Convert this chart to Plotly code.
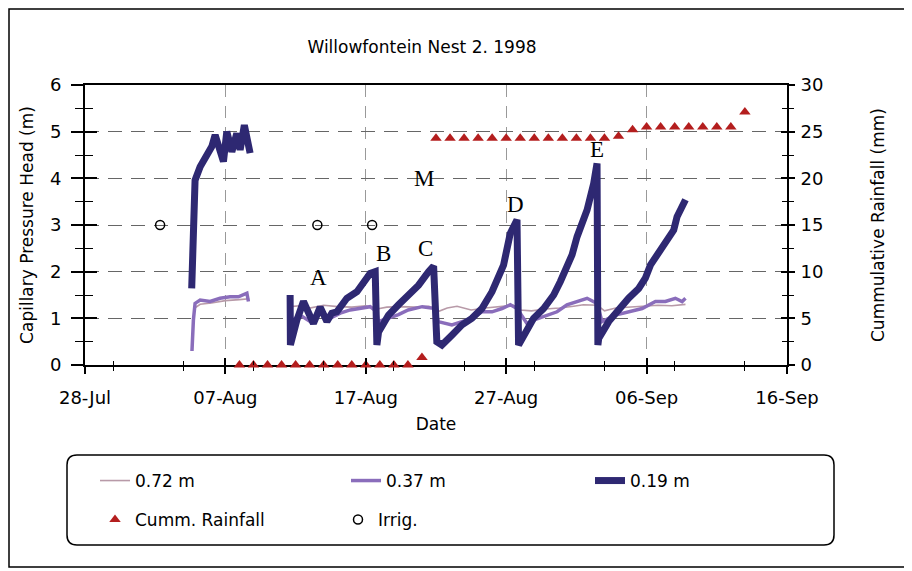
import pandas as pd
import plotly.graph_objects as go

START = pd.Timestamp("1998-07-28")

# time is in days after 28-Jul-1998
t19_a = [7.60, 7.66, 7.72, 7.84, 8.20, 8.67, 9.03, 9.27, 9.86, 10.10, 10.46, 10.81, 11.05, 11.35, 11.76]
h19_a = [1.64, 2.40, 2.96, 3.96, 4.25, 4.46, 4.68, 4.93, 4.36, 5.00, 4.57, 4.96, 4.61, 5.14, 4.54]
t19_b = [14.61, 14.63, 15.09, 15.56, 16.27, 16.75, 17.23, 17.58, 17.94, 18.65, 19.37, 19.84, 20.31,
         20.67, 20.79, 20.91, 21.62, 22.33, 23.04, 23.76, 24.47, 24.83, 25.06, 25.42, 26.13, 26.85,
         27.56, 28.27, 28.99, 29.46, 29.81, 30.29, 30.77, 30.88, 31.24, 31.95, 32.67, 33.38, 33.86,
         34.33, 34.69, 35.05, 35.76, 36.23, 36.47, 36.53, 36.59, 37.30, 38.01, 38.72, 39.44, 39.91,
         40.27, 40.75, 41.46, 41.93, 42.17, 42.77]
h19_b = [1.50, 0.43, 0.96, 1.36, 0.89, 1.24, 0.93, 1.11, 1.14, 1.43, 1.57, 1.79, 1.96,
         2.00, 0.43, 0.71, 1.07, 1.29, 1.50, 1.71, 2.00, 2.12, 0.50, 0.43, 0.64, 0.86,
         1.00, 1.21, 1.57, 1.93, 2.14, 2.82, 3.11, 0.43, 0.64, 1.00, 1.21, 1.50, 1.79,
         2.14, 2.36, 2.75, 3.32, 3.89, 4.32, 0.43, 0.57, 0.93, 1.21, 1.43, 1.64, 1.86,
         2.14, 2.36, 2.68, 2.89, 3.18, 3.54]

t37_a = [7.62, 7.72, 7.84, 8.20, 8.91, 9.62, 10.33, 10.93, 11.53, 11.64]
h37_a = [0.30, 0.96, 1.32, 1.39, 1.36, 1.43, 1.46, 1.46, 1.54, 1.36]
t37_b = [14.61, 15.32, 16.04, 16.75, 17.46, 18.18, 18.89, 19.60, 20.31, 20.79, 20.88, 22.33,
         23.02, 24.02, 24.95, 25.16, 26.13, 26.85, 27.56, 28.27, 28.99, 29.70, 30.29, 30.77,
         31.48, 31.95, 32.91, 33.62, 34.33, 35.05, 35.76, 36.47, 36.83, 37.78, 38.72, 39.68,
         40.63, 41.34, 42.05, 42.53, 42.77]
h37_b = [0.93, 1.07, 0.93, 1.14, 1.00, 1.11, 1.18, 1.21, 1.25, 1.14, 0.93, 1.08,
         1.18, 1.25, 1.21, 0.93, 0.86, 0.93, 1.00, 1.14, 1.14, 1.21, 1.29, 1.21,
         0.89, 0.96, 1.07, 1.14, 1.29, 1.36, 1.43, 1.32, 0.93, 1.07, 1.14, 1.21,
         1.36, 1.36, 1.43, 1.36, 1.43]

t72_a = [7.72, 8.20, 9.00, 10.00, 11.00, 11.70]
h72_a = [1.20, 1.30, 1.33, 1.38, 1.40, 1.42]
t72_b = [14.61, 15.30, 16.00, 17.00, 18.00, 19.00, 20.00, 20.80, 21.50, 22.50, 23.50, 24.50,
         25.20, 25.80, 26.50, 27.50, 28.50, 29.50, 30.50, 31.00, 31.80, 32.80, 33.80, 34.80,
         35.50, 36.50, 37.00, 37.80, 38.80, 39.80, 40.80, 41.80, 42.77]
h72_b = [1.25, 1.27, 1.22, 1.28, 1.25, 1.24, 1.27, 1.20, 1.24, 1.25, 1.24, 1.26,
         1.15, 1.22, 1.26, 1.18, 1.22, 1.25, 1.28, 1.18, 1.16, 1.20, 1.22, 1.26,
         1.29, 1.28, 1.16, 1.22, 1.24, 1.26, 1.28, 1.27, 1.30]

rain_days = list(range(11, 48))
rain_mm = [0, 0, 0, 0, 0, 0, 0, 0, 0, 0, 0, 0, 0, 0.8,
           24.3, 24.3, 24.3, 24.3, 24.3, 24.3, 24.3, 24.3, 24.3, 24.3, 24.3, 24.3, 24.3,
           24.5, 25.2, 25.5, 25.5, 25.5, 25.5, 25.5, 25.5, 25.5, 27.1]

irrig_days = [5.35, 16.55, 20.45]
irrig_head = [3, 3, 3]

# letter labels: (text, day, head)
labels = [("A", 16.6, 1.87), ("B", 21.26, 2.39), ("C", 24.23, 2.50),
          ("M", 24.11, 4.00), ("D", 30.65, 3.43), ("E", 36.47, 4.61)]

FONT = "DejaVu Sans"
OFF = 8  # the page body margin moves the figure 8px right and down
W, H = 912 - OFF, 571 - OFF
L, R, T, B = 85 - OFF, 125, 85 - OFF, 206
PW, PH = W - L - R, H - T - B


def dates(days):
    return [None if d is None else START + pd.Timedelta(days=d) for d in days]


# page pixel -> paper coordinates
def fx(px):
    return (px - OFF - L) / PW


def fy(py):
    return (H - B - (py - OFF)) / PH


def join(a, b):
    return a + [None] + b


fig = go.Figure()

series = [
    ("0.72 m", join(t72_a, t72_b), join(h72_a, h72_b), "#b89aa8", 1.6, "legend"),
    ("0.37 m", join(t37_a, t37_b), join(h37_a, h37_b), "#8a6dbb", 3.5, "legend2"),
    ("0.19 m", join(t19_a, t19_b), join(h19_a, h19_b), "#2e2872", 7, "legend3"),
]
for name, t, h, color, width, leg in series:
    fig.add_trace(go.Scatter(
        x=dates(t), y=h, mode="lines", name=name, legend=leg,
        line=dict(color=color, width=width), connectgaps=False,
    ))

fig.add_trace(go.Scatter(
    x=dates(rain_days), y=rain_mm, mode="markers", name="Cumm. Rainfall", yaxis="y2",
    legend="legend4", cliponaxis=False,
    marker=dict(symbol="triangle-up", size=10, color="#b41e1e"),
))
fig.add_trace(go.Scatter(
    x=dates(irrig_days), y=irrig_head, mode="markers", name="Irrig.", legend="legend5",
    marker=dict(symbol="circle-open", size=9, color="black", line=dict(width=1.5)),
))

# empty traces that carry the inner halves of the tick marks
fig.add_trace(go.Scatter(x=[None], y=[None], xaxis="x2", yaxis="y3", showlegend=False, hoverinfo="skip"))
fig.add_trace(go.Scatter(x=[None], y=[None], xaxis="x", yaxis="y4", showlegend=False, hoverinfo="skip"))

for text, d, h in labels:
    fig.add_annotation(x=START + pd.Timedelta(days=d), y=h, text=text, showarrow=False,
                       font=dict(family="Liberation Serif", size=23, color="black"))

xrange_ = ["1998-07-28", "1998-09-16"]
DAY = 86400000

legend_pos = {
    "legend": (95, 481), "legend2": (346, 481), "legend3": (590, 481),
    "legend4": (95, 520), "legend5": (338, 520),
}
legends = {}
for key, (px, py) in legend_pos.items():
    legends[key] = dict(x=fx(px), y=fy(py), xanchor="left", yanchor="middle",
                        bgcolor="rgba(0,0,0,0)", font=dict(family=FONT, size=17, color="black"))

# rounded legend frame and outer border
x0, x1, y0, y1, r = 67, 834, 455, 545, 10
frame = (f"M{fx(x0 + r)},{fy(y0)} L{fx(x1 - r)},{fy(y0)} Q{fx(x1)},{fy(y0)} {fx(x1)},{fy(y0 + r)} "
         f"L{fx(x1)},{fy(y1 - r)} Q{fx(x1)},{fy(y1)} {fx(x1 - r)},{fy(y1)} "
         f"L{fx(x0 + r)},{fy(y1)} Q{fx(x0)},{fy(y1)} {fx(x0)},{fy(y1 - r)} "
         f"L{fx(x0)},{fy(y0 + r)} Q{fx(x0)},{fy(y0)} {fx(x0 + r)},{fy(y0)} Z")

fig.update_layout(
    width=W, height=H, autosize=False,
    margin=dict(l=L, r=R, t=T, b=B),
    paper_bgcolor="white", plot_bgcolor="white",
    font=dict(family=FONT, size=17, color="black"),
    title=dict(text="Willowfontein Nest 2. 1998", x=(422 - OFF) / W, xref="container", xanchor="center",
               y=1 - (47 - OFF) / H, yref="container", yanchor="middle", font=dict(family=FONT, size=17)),
    xaxis=dict(
        type="date", range=xrange_, tick0="1998-07-28", dtick=10 * DAY, tickformat="%d-%b",
        ticks="outside", ticklen=7, tickwidth=1.5, tickcolor="black",
        minor=dict(dtick=5 * DAY, ticks="outside", ticklen=4, tickwidth=1.2, tickcolor="black", showgrid=False),
        showline=True, linewidth=2, linecolor="black", mirror=True,
        showgrid=True, gridcolor="#999999", griddash="12px,9px", gridwidth=1,
        tickfont=dict(size=18), ticklabelstandoff=8,
        title=dict(text="Date", standoff=12, font=dict(size=17)),
        layer="below traces", automargin=False,
    ),
    xaxis2=dict(
        type="date", range=xrange_, tick0="1998-07-28", dtick=10 * DAY, overlaying="x", anchor="y",
        side="bottom", ticks="inside", ticklen=7, tickwidth=1.5, tickcolor="black",
        minor=dict(dtick=5 * DAY, ticks="inside", ticklen=4, tickwidth=1.2, tickcolor="black"),
        showticklabels=False, showgrid=False, showline=False, zeroline=False,
    ),
    yaxis=dict(
        range=[0, 6], dtick=1, ticks="outside", ticklen=12, tickwidth=1.5, tickcolor="black",
        minor=dict(dtick=0.5, ticks="outside", ticklen=8, tickwidth=1.2, tickcolor="black", showgrid=False),
        showline=True, linewidth=2, linecolor="black", zeroline=False,
        showgrid=True, gridcolor="#666666", griddash="14px,9px", gridwidth=1,
        tickfont=dict(size=18), ticklabelstandoff=6,
        title=dict(text="Capillary Pressure Head (m)", standoff=12, font=dict(size=17)),
        layer="below traces", automargin=False,
    ),
    yaxis2=dict(
        range=[0, 30], dtick=5, overlaying="y", side="right", anchor="x",
        ticks="outside", ticklen=6, tickwidth=1.5, tickcolor="black",
        minor=dict(dtick=2.5, ticks="outside", ticklen=5, tickwidth=1.2, tickcolor="black"),
        showline=True, linewidth=2, linecolor="black", showgrid=False, zeroline=False,
        tickfont=dict(size=18), ticklabelstandoff=2,
        title=dict(text="Cummulative Rainfall (mm)", standoff=50, font=dict(size=17)),
        layer="below traces", automargin=False,
    ),
    yaxis3=dict(
        range=[0, 6], dtick=1, overlaying="y", side="left", anchor="x",
        ticks="inside", ticklen=12, tickwidth=1.5, tickcolor="black",
        minor=dict(dtick=0.5, ticks="inside", ticklen=8, tickwidth=1.2, tickcolor="black"),
        showticklabels=False, showgrid=False, showline=False, zeroline=False,
    ),
    yaxis4=dict(
        range=[0, 30], dtick=5, overlaying="y", side="right", anchor="x",
        ticks="inside", ticklen=6, tickwidth=1.5, tickcolor="black",
        minor=dict(dtick=2.5, ticks="inside", ticklen=5, tickwidth=1.2, tickcolor="black"),
        showticklabels=False, showgrid=False, showline=False, zeroline=False,
    ),
    shapes=[
        dict(type="path", path=frame, xref="paper", yref="paper", line=dict(color="black", width=1.5)),
        dict(type="rect", xref="paper", yref="paper", x0=fx(OFF + 1), x1=fx(906), y0=fy(OFF + 1), y1=fy(567),
             line=dict(color="black", width=1.5)),
    ],
    **legends,
)

fig.write_html("out.html")
